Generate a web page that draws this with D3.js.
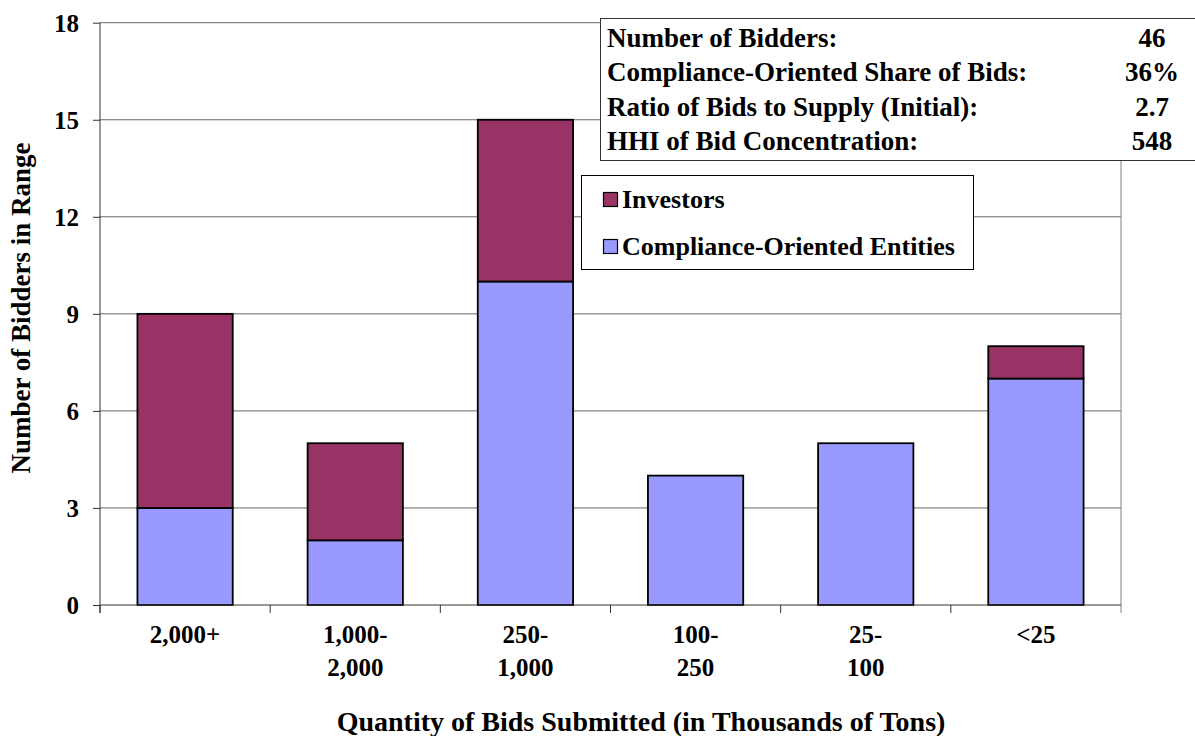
<!DOCTYPE html>
<html>
<head>
<meta charset="utf-8">
<script src="https://cdn.jsdelivr.net/npm/d3@7/dist/d3.min.js"></script>
<style>
  body { margin: 0; background: #fff; }
  text { font-family: "Liberation Serif", "Times New Roman", serif; font-weight: bold; fill: #000; }
</style>
</head>
<body>
<svg id="chart" width="1195" height="736"></svg>
<script>
// bid size ranges (thousands of tons)
var categories = [["2,000+"], ["1,000-", "2,000"], ["250-", "1,000"], ["100-", "250"], ["25-", "100"], ["<25"]];
var compliance = [3, 2, 10, 4, 5, 7];
var investors = [6, 3, 5, 0, 0, 1];
var yTicks = [0, 3, 6, 9, 12, 15, 18];
var stats = [
  ["Number of Bidders:", "46"],
  ["Compliance-Oriented Share of Bids:", "36%"],
  ["Ratio of Bids to Supply (Initial):", "2.7"],
  ["HHI of Bid Concentration:", "548"]
];
var seriesNames = ["Investors", "Compliance-Oriented Entities"];
var colors = {compliance: "#9999ff", investors: "#993366"};

var svg = d3.select("#chart");
var plotLeft = 100, plotRight = 1121, plotTop = 22.7, plotBottom = 605;

var keys = categories.map(function(d) { return d.join(" "); });
var x = d3.scaleBand().domain(keys).range([plotLeft, plotRight])
    .paddingInner(0.44).paddingOuter(0.22);
var y = d3.scaleLinear().domain([0, 18]).range([plotBottom, plotTop]);

// gridlines
svg.append("g").selectAll("line")
  .data(yTicks.filter(function(d) { return d > 0; }))
  .enter().append("line")
  .attr("x1", plotLeft).attr("x2", plotRight)
  .attr("y1", function(d) { return y(d); })
  .attr("y2", function(d) { return y(d); })
  .style("stroke", "#666").style("stroke-width", 1);

// right border of plot
svg.append("line")
  .attr("x1", plotRight).attr("x2", plotRight).attr("y1", plotTop).attr("y2", plotBottom)
  .style("stroke", "#808080");

// bars
var data = keys.map(function(k, i) {
  return {key: k, c: compliance[i], inv: investors[i]};
});
var g = svg.append("g");
g.selectAll("rect.comp").data(data).enter().append("rect")
  .attr("class", "comp")
  .attr("x", function(d) { return x(d.key); })
  .attr("width", x.bandwidth())
  .attr("y", function(d) { return y(d.c); })
  .attr("height", function(d) { return y(0) - y(d.c); })
  .style("fill", colors.compliance).style("stroke", "#000").style("stroke-width", 1.8);
g.selectAll("rect.inv").data(data.filter(function(d) { return d.inv > 0; })).enter().append("rect")
  .attr("class", "inv")
  .attr("x", function(d) { return x(d.key); })
  .attr("width", x.bandwidth())
  .attr("y", function(d) { return y(d.c + d.inv); })
  .attr("height", function(d) { return y(d.c) - y(d.c + d.inv); })
  .style("fill", colors.investors).style("stroke", "#000").style("stroke-width", 1.8);

// y axis
var yAxis = svg.append("g").attr("transform", "translate(" + plotLeft + ",0)")
  .call(d3.axisLeft(y).tickValues(yTicks).tickSize(7).tickPadding(14));
yAxis.select(".domain").attr("d", "M0," + plotTop + "V" + (plotBottom + 8)).style("stroke", "#333");
yAxis.selectAll(".tick line").style("stroke", "#333");
yAxis.selectAll(".tick text").style("font-size", "25px").attr("font-family", null)
  .attr("dy", "0.35em");

// x axis: ticks at band boundaries
var xAxis = svg.append("g");
var bounds = keys.map(function(k) { return x(k) - x.step() * x.paddingInner() / 2; });
bounds.push(plotRight);
xAxis.append("line").attr("x1", plotLeft).attr("x2", plotRight).attr("y1", plotBottom).attr("y2", plotBottom)
  .style("stroke", "#333");
xAxis.selectAll("line.tk").data(bounds).enter().append("line")
  .attr("class", "tk")
  .attr("x1", function(d) { return d; }).attr("x2", function(d) { return d; })
  .attr("y1", plotBottom).attr("y2", plotBottom + 8)
  .style("stroke", function(d, i) { return i == bounds.length - 1 ? "#808080" : "#333"; });

var labels = xAxis.selectAll("text.cat").data(categories).enter().append("text")
  .attr("class", "cat")
  .attr("text-anchor", "middle")
  .attr("x", function(d, i) { return x(keys[i]) + x.bandwidth() / 2; })
  .attr("y", 643)
  .style("font-size", "25px");
labels.selectAll("tspan").data(function(d) { return d; }).enter().append("tspan")
  .attr("x", function() { return d3.select(this.parentNode).attr("x"); })
  .attr("dy", function(d, i) { return i == 0 ? 0 : 33; })
  .text(function(d) { return d; });

// axis titles
svg.append("text")
  .attr("x", 641).attr("y", 731).attr("text-anchor", "middle")
  .style("font-size", "28px")
  .text("Quantity of Bids Submitted (in Thousands of Tons)");
svg.append("text")
  .attr("transform", "translate(30,308) rotate(-90)")
  .attr("text-anchor", "middle")
  .style("font-size", "27px")
  .text("Number of Bidders in Range");

// legend
var lg = svg.append("g");
lg.append("rect").attr("x", 581.5).attr("y", 175.5).attr("width", 392).attr("height", 94)
  .style("fill", "#fff").style("stroke", "#000");
var legendColors = [colors.investors, colors.compliance];
seriesNames.forEach(function(name, i) {
  lg.append("rect").attr("x", 603.5).attr("y", 192.5 + i * 47).attr("width", 14).attr("height", 14)
    .style("fill", legendColors[i]).style("stroke", "#000").style("stroke-width", 1.2);
  lg.append("text").attr("x", 622).attr("y", 208 + i * 47)
    .style("font-size", "26px").text(name);
});

// stats box
var sb = svg.append("g");
sb.append("rect").attr("x", 600.5).attr("y", 18.5).attr("width", 600).attr("height", 142)
  .style("fill", "#fff").style("stroke", "#333");
stats.forEach(function(s, i) {
  sb.append("text").attr("x", 607).attr("y", 47 + i * 34.3)
    .style("font-size", "27px").text(s[0]);
  sb.append("text").attr("x", 1152).attr("y", 47 + i * 34.3).attr("text-anchor", "middle")
    .style("font-size", "27px").text(s[1]);
});
</script>
</body>
</html>
